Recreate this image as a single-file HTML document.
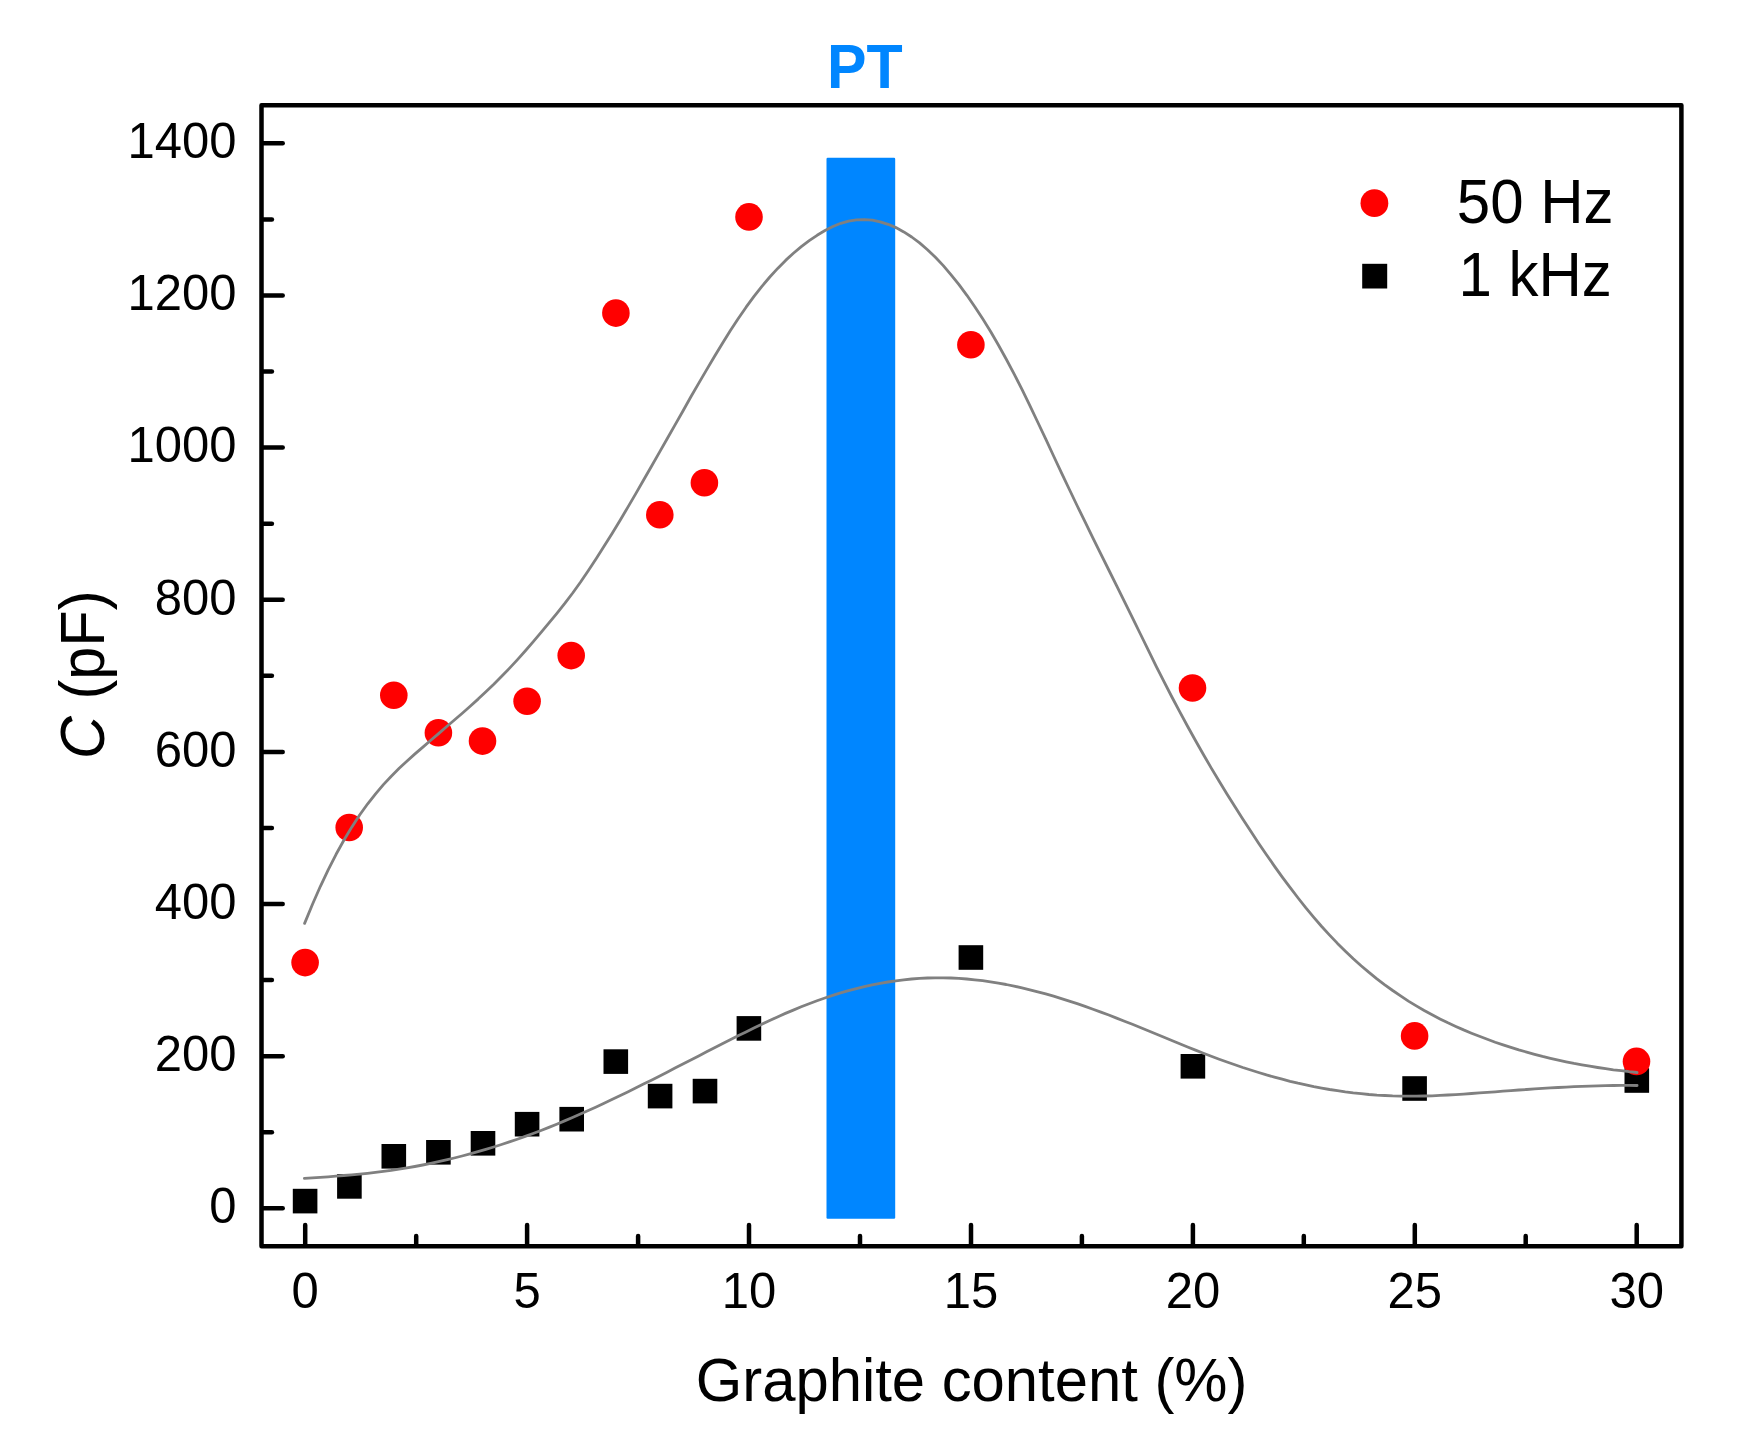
<!DOCTYPE html>
<html lang="en">
<head>
<meta charset="utf-8">
<title>Capacitance vs graphite content</title>
<style>html,body{margin:0;padding:0;background:#ffffff;}svg{display:block;}</style>
</head>
<body>
<svg width="1756" height="1448" viewBox="0 0 1756 1448" font-family='"Liberation Sans", sans-serif'>
<rect x="0" y="0" width="1756" height="1448" fill="#ffffff"/>
<rect x="826.5" y="157.8" width="68.7" height="1061" rx="1.2" fill="#0086ff"/>
<g fill="#000000">
<rect x="292.8" y="1188.8" width="24.6" height="24.6"/>
<rect x="337.1" y="1174.1" width="24.6" height="24.6"/>
<rect x="381.5" y="1144.0" width="24.6" height="24.6"/>
<rect x="426.1" y="1140.0" width="24.6" height="24.6"/>
<rect x="470.7" y="1131.0" width="24.6" height="24.6"/>
<rect x="514.8" y="1111.9" width="24.6" height="24.6"/>
<rect x="559.4" y="1106.9" width="24.6" height="24.6"/>
<rect x="603.5" y="1049.3" width="24.6" height="24.6"/>
<rect x="647.8" y="1083.8" width="24.6" height="24.6"/>
<rect x="692.7" y="1078.8" width="24.6" height="24.6"/>
<rect x="736.6" y="1016.1" width="24.6" height="24.6"/>
<rect x="958.6" y="945.2" width="24.6" height="24.6"/>
<rect x="1180.6" y="1054.0" width="24.6" height="24.6"/>
<rect x="1402.3" y="1076.2" width="24.6" height="24.6"/>
<rect x="1624.5" y="1068.2" width="24.6" height="24.6"/>
</g>
<g fill="#ff0000">
<circle cx="305.1" cy="962.6" r="13.8"/>
<circle cx="349.2" cy="827.5" r="13.8"/>
<circle cx="393.8" cy="695.2" r="13.8"/>
<circle cx="438.4" cy="732.8" r="13.8"/>
<circle cx="482.5" cy="741.1" r="13.8"/>
<circle cx="527.1" cy="701.2" r="13.8"/>
<circle cx="571.2" cy="655.6" r="13.8"/>
<circle cx="615.9" cy="313.1" r="13.8"/>
<circle cx="659.8" cy="514.8" r="13.8"/>
<circle cx="704.4" cy="482.7" r="13.8"/>
<circle cx="749.0" cy="216.9" r="13.8"/>
<circle cx="970.9" cy="344.8" r="13.8"/>
<circle cx="1192.5" cy="688.0" r="13.8"/>
<circle cx="1414.6" cy="1035.9" r="13.8"/>
<circle cx="1636.5" cy="1061.4" r="13.8"/>
</g>
<path d="M304.6 923.4 L312.5 904.2 L320.4 886.3 L328.3 869.7 L336.1 854.3 L344.0 840.0 L351.9 826.9 L359.8 814.8 L367.7 803.8 L375.6 793.8 L383.4 784.6 L391.3 776.2 L399.2 768.3 L407.1 761.0 L415.0 753.9 L422.9 747.1 L430.8 740.3 L438.6 733.6 L446.5 726.8 L454.4 720.0 L462.3 713.2 L470.2 706.2 L478.1 699.1 L485.9 691.7 L493.8 684.2 L501.7 676.3 L509.6 668.1 L517.5 659.6 L525.4 650.8 L533.3 641.7 L541.1 632.4 L549.0 622.9 L556.9 613.3 L564.8 603.4 L572.7 593.0 L580.6 582.0 L588.4 570.5 L596.3 558.5 L604.2 546.1 L612.1 533.4 L620.0 520.4 L627.9 507.1 L635.8 493.6 L643.6 480.0 L651.5 466.2 L659.4 452.4 L667.3 438.5 L675.2 424.6 L683.1 410.7 L690.9 396.8 L698.8 383.1 L706.7 369.6 L714.6 356.2 L722.5 343.2 L730.4 330.6 L738.3 318.6 L746.1 307.2 L754.0 296.4 L761.9 286.4 L769.8 277.0 L777.7 268.4 L785.6 260.4 L793.4 253.2 L801.3 246.6 L809.2 240.6 L817.1 235.3 L825.0 230.5 L832.9 226.5 L840.8 223.3 L848.6 221.1 L856.5 219.9 L864.4 219.6 L872.3 220.2 L880.2 221.8 L888.1 224.3 L895.9 227.6 L903.8 231.9 L911.7 237.0 L919.6 242.9 L927.5 249.7 L935.4 257.3 L943.3 265.6 L951.1 274.8 L959.0 284.7 L966.9 295.3 L974.8 306.7 L982.7 318.8 L990.6 331.5 L998.4 345.0 L1006.3 359.2 L1014.2 374.1 L1022.1 389.7 L1030.0 405.9 L1037.9 422.5 L1045.8 439.2 L1053.6 456.0 L1061.5 472.8 L1069.4 489.5 L1077.3 506.0 L1085.2 522.2 L1093.1 538.3 L1100.9 554.2 L1108.8 570.0 L1116.7 585.9 L1124.6 601.8 L1132.5 617.9 L1140.4 634.0 L1148.3 650.1 L1156.1 666.1 L1164.0 681.7 L1171.9 697.0 L1179.8 711.9 L1187.7 726.5 L1195.6 740.7 L1203.4 754.5 L1211.3 768.1 L1219.2 781.3 L1227.1 794.2 L1235.0 806.8 L1242.9 819.2 L1250.8 831.3 L1258.6 843.2 L1266.5 854.8 L1274.4 866.1 L1282.3 877.1 L1290.2 887.7 L1298.1 898.0 L1305.9 907.9 L1313.8 917.4 L1321.7 926.5 L1329.6 935.1 L1337.5 943.4 L1345.4 951.2 L1353.3 958.7 L1361.1 965.7 L1369.0 972.4 L1376.9 978.8 L1384.8 984.8 L1392.7 990.5 L1400.6 995.9 L1408.4 1001.1 L1416.3 1005.9 L1424.2 1010.5 L1432.1 1014.8 L1440.0 1018.9 L1447.9 1022.8 L1455.8 1026.4 L1463.6 1029.9 L1471.5 1033.2 L1479.4 1036.3 L1487.3 1039.3 L1495.2 1042.2 L1503.1 1044.9 L1510.9 1047.4 L1518.8 1049.9 L1526.7 1052.1 L1534.6 1054.3 L1542.5 1056.4 L1550.4 1058.3 L1558.3 1060.1 L1566.1 1061.8 L1574.0 1063.4 L1581.9 1064.8 L1589.8 1066.2 L1597.7 1067.5 L1605.6 1068.7 L1613.4 1069.8 L1621.3 1070.7 L1629.2 1071.7 L1637.1 1072.5" fill="none" stroke="#808080" stroke-width="2.8" stroke-linecap="round" stroke-linejoin="round"/>
<path d="M304.4 1178.4 L312.3 1177.9 L320.2 1177.3 L328.1 1176.8 L335.9 1176.2 L343.8 1175.5 L351.7 1174.8 L359.6 1174.1 L367.5 1173.3 L375.4 1172.4 L383.3 1171.4 L391.1 1170.4 L399.0 1169.2 L406.9 1167.9 L414.8 1166.5 L422.7 1165.0 L430.6 1163.4 L438.5 1161.7 L446.3 1159.9 L454.2 1158.0 L462.1 1156.0 L470.0 1153.9 L477.9 1151.7 L485.8 1149.4 L493.7 1147.0 L501.5 1144.5 L509.4 1141.9 L517.3 1139.2 L525.2 1136.4 L533.1 1133.5 L541.0 1130.5 L548.9 1127.4 L556.7 1124.2 L564.6 1120.9 L572.5 1117.5 L580.4 1114.0 L588.3 1110.5 L596.2 1106.9 L604.1 1103.2 L611.9 1099.5 L619.8 1095.7 L627.7 1091.9 L635.6 1088.0 L643.5 1084.1 L651.4 1080.2 L659.3 1076.2 L667.1 1072.2 L675.0 1068.1 L682.9 1064.0 L690.8 1060.0 L698.7 1055.9 L706.6 1051.8 L714.5 1047.8 L722.3 1043.7 L730.2 1039.7 L738.1 1035.8 L746.0 1031.9 L753.9 1028.0 L761.8 1024.2 L769.7 1020.5 L777.5 1016.9 L785.4 1013.4 L793.3 1010.1 L801.2 1006.8 L809.1 1003.7 L817.0 1000.8 L824.9 998.0 L832.7 995.4 L840.6 992.9 L848.5 990.7 L856.4 988.6 L864.3 986.6 L872.2 984.9 L880.1 983.3 L887.9 982.0 L895.8 980.8 L903.7 979.8 L911.6 979.0 L919.5 978.4 L927.4 978.0 L935.3 977.8 L943.1 977.8 L951.0 978.0 L958.9 978.4 L966.8 979.0 L974.7 979.8 L982.6 980.7 L990.5 981.8 L998.4 983.1 L1006.2 984.5 L1014.1 986.1 L1022.0 987.9 L1029.9 989.8 L1037.8 991.8 L1045.7 993.9 L1053.6 996.2 L1061.4 998.6 L1069.3 1001.1 L1077.2 1003.7 L1085.1 1006.4 L1093.0 1009.2 L1100.9 1012.1 L1108.8 1015.0 L1116.6 1018.1 L1124.5 1021.2 L1132.4 1024.3 L1140.3 1027.5 L1148.2 1030.8 L1156.1 1034.0 L1164.0 1037.3 L1171.8 1040.5 L1179.7 1043.8 L1187.6 1047.0 L1195.5 1050.1 L1203.4 1053.2 L1211.3 1056.2 L1219.2 1059.2 L1227.0 1062.0 L1234.9 1064.8 L1242.8 1067.5 L1250.7 1070.0 L1258.6 1072.5 L1266.5 1074.9 L1274.4 1077.1 L1282.2 1079.2 L1290.1 1081.3 L1298.0 1083.2 L1305.9 1084.9 L1313.8 1086.6 L1321.7 1088.1 L1329.6 1089.5 L1337.4 1090.7 L1345.3 1091.9 L1353.2 1092.9 L1361.1 1093.7 L1369.0 1094.5 L1376.9 1095.1 L1384.8 1095.5 L1392.6 1095.9 L1400.5 1096.1 L1408.4 1096.2 L1416.3 1096.1 L1424.2 1096.0 L1432.1 1095.8 L1440.0 1095.4 L1447.8 1095.0 L1455.7 1094.6 L1463.6 1094.1 L1471.5 1093.5 L1479.4 1092.9 L1487.3 1092.4 L1495.2 1091.8 L1503.0 1091.2 L1510.9 1090.6 L1518.8 1090.0 L1526.7 1089.5 L1534.6 1088.9 L1542.5 1088.4 L1550.4 1087.9 L1558.2 1087.5 L1566.1 1087.1 L1574.0 1086.7 L1581.9 1086.4 L1589.8 1086.1 L1597.7 1085.8 L1605.6 1085.6 L1613.4 1085.5 L1621.3 1085.4 L1629.2 1085.4 L1637.1 1085.5" fill="none" stroke="#808080" stroke-width="2.8" stroke-linecap="round" stroke-linejoin="round"/>
<g stroke="#000000" stroke-width="4.5" fill="none" stroke-linecap="round">
<rect x="261.5" y="105.2" width="1419.9" height="1141.1" stroke-linejoin="round"/>
<line x1="262.5" y1="1208.3" x2="282.7" y2="1208.3"/>
<line x1="262.5" y1="1132.2" x2="271.9" y2="1132.2"/>
<line x1="262.5" y1="1056.2" x2="282.7" y2="1056.2"/>
<line x1="262.5" y1="980.1" x2="271.9" y2="980.1"/>
<line x1="262.5" y1="904.0" x2="282.7" y2="904.0"/>
<line x1="262.5" y1="827.9" x2="271.9" y2="827.9"/>
<line x1="262.5" y1="751.9" x2="282.7" y2="751.9"/>
<line x1="262.5" y1="675.8" x2="271.9" y2="675.8"/>
<line x1="262.5" y1="599.7" x2="282.7" y2="599.7"/>
<line x1="262.5" y1="523.7" x2="271.9" y2="523.7"/>
<line x1="262.5" y1="447.6" x2="282.7" y2="447.6"/>
<line x1="262.5" y1="371.5" x2="271.9" y2="371.5"/>
<line x1="262.5" y1="295.4" x2="282.7" y2="295.4"/>
<line x1="262.5" y1="219.4" x2="271.9" y2="219.4"/>
<line x1="262.5" y1="143.3" x2="282.7" y2="143.3"/>
<line x1="305.2" y1="1245.3" x2="305.2" y2="1225.1"/>
<line x1="416.2" y1="1245.3" x2="416.2" y2="1235.9"/>
<line x1="527.1" y1="1245.3" x2="527.1" y2="1225.1"/>
<line x1="638.1" y1="1245.3" x2="638.1" y2="1235.9"/>
<line x1="749.0" y1="1245.3" x2="749.0" y2="1225.1"/>
<line x1="860.0" y1="1245.3" x2="860.0" y2="1235.9"/>
<line x1="971.0" y1="1245.3" x2="971.0" y2="1225.1"/>
<line x1="1081.9" y1="1245.3" x2="1081.9" y2="1235.9"/>
<line x1="1192.9" y1="1245.3" x2="1192.9" y2="1225.1"/>
<line x1="1303.8" y1="1245.3" x2="1303.8" y2="1235.9"/>
<line x1="1414.8" y1="1245.3" x2="1414.8" y2="1225.1"/>
<line x1="1525.7" y1="1245.3" x2="1525.7" y2="1235.9"/>
<line x1="1636.7" y1="1245.3" x2="1636.7" y2="1225.1"/>
</g>
<text transform="translate(236.6 1223.1) scale(1 1.03)" font-size="49" text-anchor="end" fill="#000000">0</text>
<text transform="translate(236.6 1071.0) scale(1 1.03)" font-size="49" text-anchor="end" fill="#000000">200</text>
<text transform="translate(236.6 918.8) scale(1 1.03)" font-size="49" text-anchor="end" fill="#000000">400</text>
<text transform="translate(236.6 766.7) scale(1 1.03)" font-size="49" text-anchor="end" fill="#000000">600</text>
<text transform="translate(236.6 614.5) scale(1 1.03)" font-size="49" text-anchor="end" fill="#000000">800</text>
<text transform="translate(236.6 462.4) scale(1 1.03)" font-size="49" text-anchor="end" fill="#000000">1000</text>
<text transform="translate(236.6 310.2) scale(1 1.03)" font-size="49" text-anchor="end" fill="#000000">1200</text>
<text transform="translate(236.6 158.1) scale(1 1.03)" font-size="49" text-anchor="end" fill="#000000">1400</text>
<text transform="translate(305.2 1308.3) scale(1 1.03)" font-size="49" text-anchor="middle" fill="#000000">0</text>
<text transform="translate(527.1 1308.3) scale(1 1.03)" font-size="49" text-anchor="middle" fill="#000000">5</text>
<text transform="translate(749.0 1308.3) scale(1 1.03)" font-size="49" text-anchor="middle" fill="#000000">10</text>
<text transform="translate(971.0 1308.3) scale(1 1.03)" font-size="49" text-anchor="middle" fill="#000000">15</text>
<text transform="translate(1192.9 1308.3) scale(1 1.03)" font-size="49" text-anchor="middle" fill="#000000">20</text>
<text transform="translate(1414.8 1308.3) scale(1 1.03)" font-size="49" text-anchor="middle" fill="#000000">25</text>
<text transform="translate(1636.7 1308.3) scale(1 1.03)" font-size="49" text-anchor="middle" fill="#000000">30</text>
<text transform="translate(971.6 1400.8) scale(1 1.02)" font-size="59.8" text-anchor="middle" fill="#000000">Graphite content (%)</text>
<text transform="translate(103.9 674.8) rotate(-90) scale(1 1.05)" font-size="59.5" text-anchor="middle" fill="#000000"><tspan font-style="italic">C</tspan> (pF)</text>
<text transform="translate(827.0 87.7) scale(1 1.06)" font-size="59.2" text-anchor="start" fill="#0086ff" font-weight="bold">PT</text>
<circle cx="1374.4" cy="203.2" r="13.9" fill="#ff0000"/>
<rect x="1362.2" y="263.8" width="25" height="24.7" fill="#000000"/>
<text transform="translate(1456.8 223.3) scale(1 1.04)" font-size="60" text-anchor="start" fill="#000000">50 Hz</text>
<text transform="translate(1458.4 296.2) scale(1 1.04)" font-size="60" text-anchor="start" fill="#000000">1 kHz</text>
</svg>
</body>
</html>
